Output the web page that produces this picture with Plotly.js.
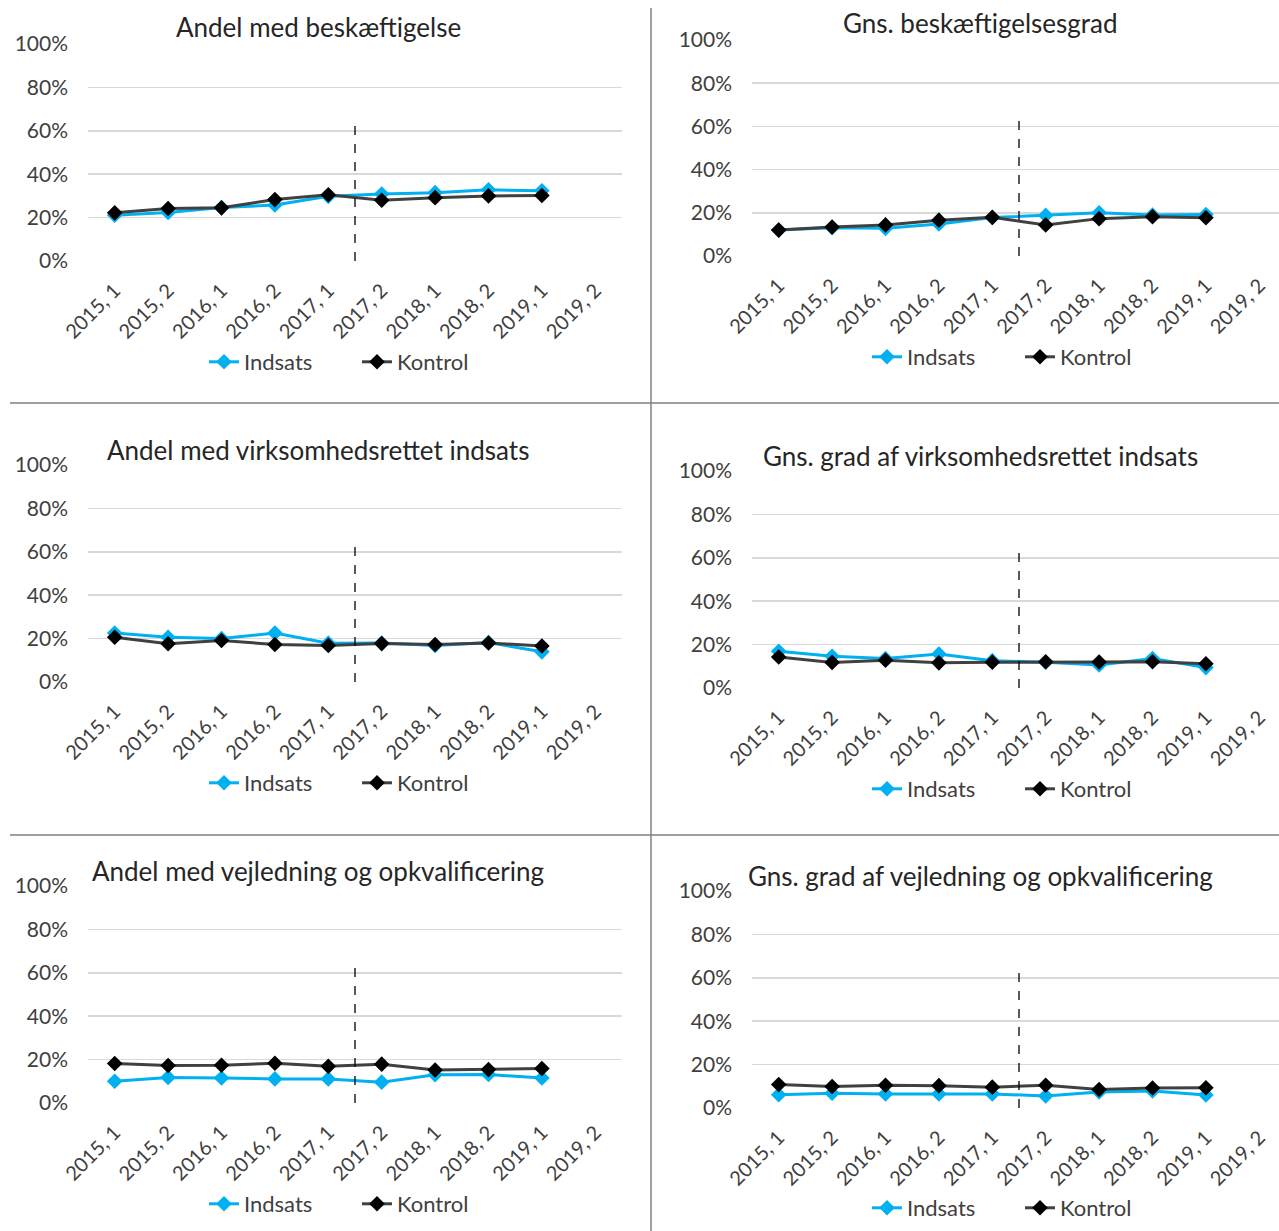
<!DOCTYPE html>
<html>
<head>
<meta charset="utf-8">
<script src="https://cdn.plot.ly/plotly-3.0.1.min.js"></script>
<style>html,body{margin:0;padding:0;background:#fff;}#chart{width:1279px;height:1231px;}</style>
</head>
<body>
<div id="chart"></div>
<script>
// ---- data ----
const categories = ['2015, 1','2015, 2','2016, 1','2016, 2','2017, 1','2017, 2','2018, 1','2018, 2','2019, 1','2019, 2'];
const yTickVals = [0, 20, 40, 60, 80, 100];
const yTickText = ['0%', '20%', '40%', '60%', '80%', '100%'];
const seriesNames = ['Indsats', 'Kontrol'];
const panelTitles = [
  'Andel med beskæftigelse',
  'Gns. beskæftigelsesgrad',
  'Andel med virksomhedsrettet indsats',
  'Gns. grad af virksomhedsrettet indsats',
  'Andel med vejledning og opkvalificering',
  'Gns. grad af vejledning og opkvalificering'
];
const beskIndsats   = [21.1, 22.4, 24.6, 25.8, 29.8, 30.9, 31.5, 32.8, 32.4];
const beskKontrol   = [22.2, 24.2, 24.5, 28.3, 30.5, 28.0, 29.2, 30.0, 30.2];
const beskGradIndsats = [12.0, 13.1, 12.8, 14.8, 17.8, 18.8, 20.0, 19.0, 19.2];
const beskGradKontrol = [12.0, 13.4, 14.4, 16.6, 17.9, 14.4, 17.3, 18.2, 17.7];
const virkIndsats   = [22.6, 20.6, 20.0, 22.6, 17.9, 18.0, 16.8, 18.2, 13.9];
const virkKontrol   = [20.6, 17.6, 19.1, 17.3, 16.8, 17.7, 17.3, 18.0, 16.6];
const virkGradIndsats = [16.9, 14.6, 13.6, 15.7, 12.6, 11.9, 10.6, 13.6, 9.4];
const virkGradKontrol = [14.3, 11.8, 12.8, 11.6, 11.9, 12.1, 12.0, 12.1, 11.2];
const vejlIndsats   = [10.0, 11.8, 11.5, 11.1, 11.1, 9.6, 13.0, 13.1, 11.5];
const vejlKontrol   = [18.2, 17.3, 17.4, 18.3, 16.9, 17.9, 15.2, 15.4, 15.9];
const vejlGradIndsats = [6.1, 6.8, 6.5, 6.5, 6.5, 5.5, 7.4, 7.8, 6.0];
const vejlGradKontrol = [10.8, 9.9, 10.5, 10.3, 9.6, 10.5, 8.5, 9.2, 9.3];
const interventionStart = 4.5; // between 2017,1 and 2017,2
const dashTop = 64;

const panelData = [
  [beskIndsats, beskKontrol],
  [beskGradIndsats, beskGradKontrol],
  [virkIndsats, virkKontrol],
  [virkGradIndsats, virkGradKontrol],
  [vejlIndsats, vejlKontrol],
  [vejlGradIndsats, vejlGradKontrol]
];

// ---- layout geometry (pixels) ----
const W = 1279, H = 1231;
const FONT = 'Lato, "Open Sans", sans-serif';
const TXT = '#404040';
const catW = 53.4;
const panels = [
  {left: 88,  top: 44,  bottom: 261,  titleX: 318, titleY: 27,  legX: 204, legY: 362},
  {left: 752, top: 40,  bottom: 256,  titleX: 981, titleY: 23,  legX: 867, legY: 357},
  {left: 88,  top: 465, bottom: 682,  titleX: 318, titleY: 450, legX: 204, legY: 783},
  {left: 752, top: 471, bottom: 688,  titleX: 981, titleY: 456, legX: 867, legY: 789},
  {left: 88,  top: 886, bottom: 1103, titleX: 318, titleY: 871, legX: 204, legY: 1204},
  {left: 752, top: 891, bottom: 1108, titleX: 981, titleY: 876, legX: 867, legY: 1208}
];
const colors = ['#00B0F0', '#404040'];
const markerColors = ['#00B0F0', '#000000'];

const traces = [];
const layout = {
  width: W, height: H,
  margin: {l: 0, r: 0, t: 0, b: 0},
  paper_bgcolor: '#fff', plot_bgcolor: 'rgba(0,0,0,0)',
  font: {family: FONT, color: TXT, size: 20},
  showlegend: true,
  annotations: [], shapes: []
};

panels.forEach((p, i) => {
  const n = i === 0 ? '' : String(i + 1);
  const right = Math.min(p.left + 10 * catW, W);
  const xr1 = -0.5 + (right - p.left) / catW;
  layout['xaxis' + n] = {
    domain: [p.left / W, right / W],
    anchor: 'y' + n,
    type: 'category',
    categoryorder: 'array',
    categoryarray: categories,
    range: [-0.5, xr1],
    tickmode: 'array',
    tickvals: categories,
    ticktext: categories,
    tickangle: -45,
    ticklabelstandoff: 13,
    showgrid: false, zeroline: false, showline: false, ticks: '',
    tickfont: {family: FONT, size: 20, color: TXT},
    fixedrange: true
  };
  layout['yaxis' + n] = {
    domain: [1 - p.bottom / H, 1 - p.top / H],
    anchor: 'x' + n,
    range: [0, 100],
    tickmode: 'array', tickvals: yTickVals, ticktext: yTickText,
    showgrid: true, gridcolor: '#D9D9D9', gridwidth: 1.5,
    zeroline: false, showline: false, ticks: '',
    ticklabelstandoff: 19,
    tickfont: {family: FONT, size: 21, color: TXT},
    fixedrange: true
  };
  const legName = 'legend' + n;
  layout[legName] = {
    orientation: 'h',
    x: p.legX / W, xanchor: 'left',
    y: 1 - p.legY / H, yanchor: 'middle',
    bgcolor: 'rgba(0,0,0,0)',
    font: {family: FONT, size: 22, color: TXT},
    entrywidth: 108, entrywidthmode: 'pixels',
    traceorder: 'normal'
  };
  panelData[i].forEach((vals, s) => {
    traces.push({
      type: 'scatter', mode: 'lines+markers',
      name: seriesNames[s],
      x: categories.slice(0, vals.length),
      y: vals,
      xaxis: 'x' + n, yaxis: 'y' + n,
      legend: legName,
      line: {color: colors[s], width: 3},
      marker: {symbol: 'diamond', size: 12, color: markerColors[s], line: {width: 0}},
      hoverinfo: 'skip'
    });
  });
  layout.shapes.push({
    type: 'line', xref: 'x' + n, yref: 'y' + n,
    x0: interventionStart, x1: interventionStart, y0: 0, y1: dashTop,
    line: {color: '#000', width: 1.3, dash: 'dash'}
  });
  layout.annotations.push({
    xref: 'paper', yref: 'paper',
    x: p.titleX / W, y: 1 - p.titleY / H,
    xanchor: 'center', yanchor: 'middle',
    text: panelTitles[i], showarrow: false,
    font: {family: FONT, size: 26, color: '#262626'}
  });
});

// panel separators
layout.shapes.push(
  {type: 'line', xref: 'paper', yref: 'paper', x0: 651 / W, x1: 651 / W, y0: 0, y1: 1 - 8 / H, line: {color: '#808080', width: 1.5}},
  {type: 'line', xref: 'paper', yref: 'paper', x0: 10 / W, x1: 1, y0: 1 - 403 / H, y1: 1 - 403 / H, line: {color: '#808080', width: 1.5}},
  {type: 'line', xref: 'paper', yref: 'paper', x0: 10 / W, x1: 1, y0: 1 - 835 / H, y1: 1 - 835 / H, line: {color: '#808080', width: 1.5}}
);

Plotly.newPlot('chart', traces, layout, {displayModeBar: false, staticPlot: true});
</script>
</body>
</html>
